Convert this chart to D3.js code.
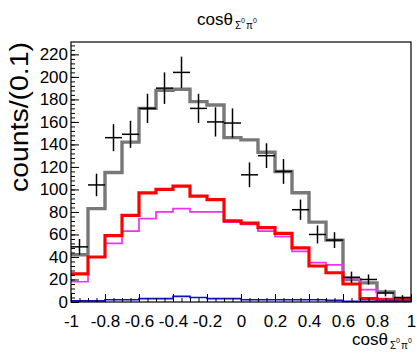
<!DOCTYPE html>
<html>
<head>
<meta charset="utf-8">
<script src="https://cdn.jsdelivr.net/npm/d3@7"></script>
<style>
  body { margin: 0; background: #fff; }
  text { font-family: "Liberation Sans", Arial, Helvetica, sans-serif; fill: #000; }
</style>
</head>
<body>
<div id="chart"></div>
<script>
// bins: lower edges, width 0.1
const binLo = [-1.0, -0.9, -0.8, -0.7, -0.6, -0.5, -0.4, -0.3, -0.2, -0.1,
               0.0, 0.1, 0.2, 0.3, 0.4, 0.5, 0.6, 0.7, 0.8, 0.9];
const binWidth = 0.1;

// measured data (black crosses)
const dataCounts = [49, 104, 146, 149, 172, 190, 204, 172, 160, 159,
                    113, 130, 116, 82, 60, 55, 22, 20, 8, 4];
const dataErrors = [7, 10, 12, 12, 13, 14, 14, 13, 13, 13,
                    11, 11, 11, 9, 8, 7, 5, 4.5, 3, 2];

// fit components
const totalFit  = [42, 83, 115, 142, 172, 188, 189, 178, 175, 146,
                   144, 133, 116, 97, 71, 55, 20, 17, 9, 3];
const redComp   = [25, 40, 59, 77, 97, 100, 103, 94, 91, 72,
                   70, 66, 61, 48, 32, 26, 16, 3, 2, 2];
const magComp   = [18, 40, 52, 63, 74, 80, 83, 80, 80, 71,
                   69, 63, 58, 45, 35, 33, 20, 11, 3, 2];
const blueComp  = [1, 1, 2, 2, 3, 3, 5, 4, 3, 3,
                   2, 2, 2, 2, 2, 1.5, 0.5, 0.5, 0.5, 0.5];

const yMajor = d3.range(0, 221, 20);
const yMinor = d3.range(0, 231, 4);
const xMajor = [-1, -0.8, -0.6, -0.4, -0.2, 0, 0.2, 0.4, 0.6, 0.8, 1];
const xMinor = d3.range(-1, 1.001, 0.05);

const width = 417, height = 357;
const padLeft = 71, padRight = 411, padTop = 42, padBottom = 302;

const svg = d3.select("#chart").append("svg")
  .attr("width", width)
  .attr("height", height);

const x = d3.scaleLinear().domain([-1, 1]).range([padLeft, padRight]);
const y = d3.scaleLinear().domain([0, 231]).range([padBottom, padTop]);

// histograms as step lines
const step = d3.line()
  .x(d => x(d[0]))
  .y(d => y(d[1]))
  .curve(d3.curveStepAfter);

function histPts(vals) {
  const pts = binLo.map((lo, i) => [lo, vals[i]]);
  pts.push([binLo[binLo.length - 1] + binWidth, vals[vals.length - 1]]);
  return pts;
}

svg.append("path")
  .attr("d", step(histPts(totalFit)))
  .attr("fill", "none")
  .attr("stroke", "#787878")
  .attr("stroke-width", 3.4);

svg.append("path")
  .attr("d", step(histPts(magComp)))
  .attr("fill", "none")
  .attr("stroke", "#f030f0")
  .attr("stroke-width", 1.7);

svg.append("path")
  .attr("d", step(histPts(redComp)))
  .attr("fill", "none")
  .attr("stroke", "#ff0000")
  .attr("stroke-width", 3.2);

svg.append("path")
  .attr("d", step(histPts(blueComp)))
  .attr("fill", "none")
  .attr("stroke", "#1010c8")
  .attr("stroke-width", 1.7);

// data points with error bars
const pts = svg.append("g")
  .attr("stroke", "#000")
  .attr("stroke-width", 1.5);

pts.selectAll("line.h")
  .data(binLo)
  .enter()
  .append("line")
  .attr("x1", d => x(d))
  .attr("x2", d => x(d + binWidth))
  .attr("y1", (d, i) => y(dataCounts[i]))
  .attr("y2", (d, i) => y(dataCounts[i]));

pts.selectAll("line.v")
  .data(binLo)
  .enter()
  .append("line")
  .attr("x1", d => x(d + binWidth / 2))
  .attr("x2", d => x(d + binWidth / 2))
  .attr("y1", (d, i) => y(dataCounts[i] - dataErrors[i]))
  .attr("y2", (d, i) => y(dataCounts[i] + dataErrors[i]));

// axes, ticks inward like ROOT
const fmtX = d => String(+d.toFixed(1));

svg.append("g")
  .attr("transform", "translate(" + padLeft + ",0)")
  .call(d3.axisLeft(y).tickValues(yMinor).tickSize(-4).tickFormat(""))
  .call(g => g.select(".domain").remove());

svg.append("g")
  .attr("transform", "translate(" + padLeft + ",0)")
  .call(d3.axisLeft(y).tickValues(yMajor).tickSize(-8).tickPadding(3).tickFormat(d => d))
  .call(g => g.select(".domain").remove())
  .call(g => g.selectAll("text").style("font-size", "17px"));

svg.append("g")
  .attr("transform", "translate(0," + padBottom + ")")
  .call(d3.axisBottom(x).tickValues(xMinor).tickSize(-4).tickFormat(""))
  .call(g => g.select(".domain").remove());

svg.append("g")
  .attr("transform", "translate(0," + padBottom + ")")
  .call(d3.axisBottom(x).tickValues(xMajor).tickSize(-8).tickPadding(13).tickFormat(fmtX))
  .call(g => g.select(".domain").remove())
  .call(g => g.selectAll("text").style("font-size", "17px"));

svg.selectAll(".tick line").attr("stroke", "#000");

// frame
svg.append("rect")
  .attr("x", padLeft)
  .attr("y", padTop)
  .attr("width", padRight - padLeft)
  .attr("height", padBottom - padTop)
  .attr("fill", "none")
  .attr("stroke", "#000")
  .attr("stroke-width", 1.2);

// titles
function cosTitle(px, py) {
  const t = svg.append("text").attr("x", px).attr("y", py);
  t.append("tspan").style("font-size", "17px").text("cosθ");
  t.append("tspan").style("font-size", "10px").attr("dx", 2).attr("dy", 4).text("Σ");
  t.append("tspan").style("font-size", "7px").attr("dy", -6).text("0");
  t.append("tspan").style("font-size", "10px").attr("dx", 1).attr("dy", 6).text("π");
  t.append("tspan").style("font-size", "7px").attr("dy", -6).text("0");
}
cosTitle(197, 25);
cosTitle(352, 345);

svg.append("text")
  .attr("transform", "translate(28," + padTop + ") rotate(-90)")
  .attr("text-anchor", "end")
  .attr("textLength", 150)
  .attr("lengthAdjust", "spacingAndGlyphs")
  .style("font-size", "26px")
  .text("counts/(0.1)");
</script>
</body>
</html>
